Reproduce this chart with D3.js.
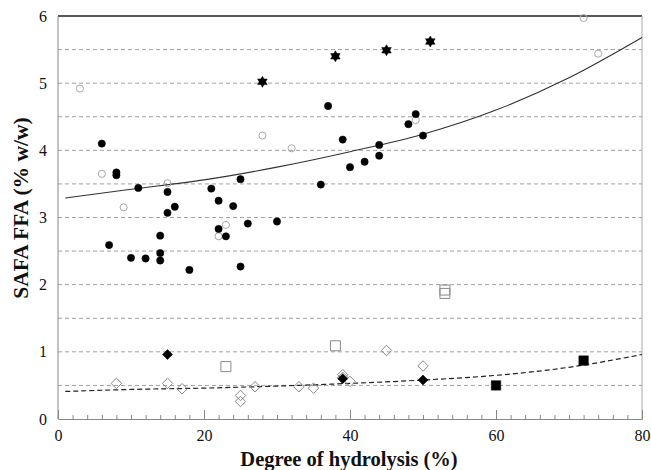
<!DOCTYPE html>
<html><head><meta charset="utf-8">
<script src="https://cdn.jsdelivr.net/npm/d3@7"></script>
<style>body{margin:0;background:#fff}svg{display:block}</style>
</head><body><svg id="c" width="651" height="470"></svg>
<script>
// ---- data (x = degree of hydrolysis %, y = SAFA FFA % w/w) ----
const filledCircleX = [6, 8, 8, 11, 15, 15, 16, 7, 10, 12, 14, 14, 14, 18, 21, 22, 24, 25, 22, 23, 26, 30, 25, 36, 37, 39, 40, 42, 44, 44, 48, 49, 50];
const filledCircleY = [4.10, 3.67, 3.63, 3.44, 3.38, 3.07, 3.16, 2.59, 2.40, 2.39, 2.73, 2.47, 2.36, 2.22, 3.43, 3.25, 3.17, 3.57, 2.83, 2.72, 2.91, 2.94, 2.27, 3.49, 4.66, 4.16, 3.75, 3.83, 4.08, 3.92, 4.39, 4.54, 4.22];
const openCircleX = [3, 6, 9, 15, 22, 23, 28, 32, 49, 72, 74];
const openCircleY = [4.92, 3.65, 3.15, 3.51, 2.72, 2.89, 4.22, 4.03, 4.45, 5.97, 5.44];
const starX = [28, 38, 45, 51];
const starY = [5.02, 5.40, 5.49, 5.62];
const openSquareX = [23, 38, 53, 53];
const openSquareY = [0.78, 1.09, 1.92, 1.87];
const filledSquareX = [60, 72];
const filledSquareY = [0.50, 0.87];
const openDiamondX = [8, 15, 17, 25, 25, 27, 33, 35, 39, 39, 40, 45, 50];
const openDiamondY = [0.53, 0.53, 0.45, 0.35, 0.26, 0.48, 0.48, 0.46, 0.66, 0.62, 0.56, 1.02, 0.79];
const filledDiamondX = [15, 39, 50];
const filledDiamondY = [0.96, 0.60, 0.58];
// trend curves
const solidCurveX = [1, 10, 20, 30, 40, 50, 60, 70, 80];
const solidCurveY = [3.29, 3.42, 3.56, 3.75, 3.98, 4.24, 4.60, 5.08, 5.68];
const dashedCurveX = [1, 10, 20, 30, 40, 50, 60, 70, 80];
const dashedCurveY = [0.41, 0.44, 0.46, 0.49, 0.53, 0.58, 0.65, 0.77, 0.96];
const xTicks = [0, 20, 40, 60, 80];
const yTicks = [0, 1, 2, 3, 4, 5, 6];
const gridValues = [0.5, 1, 1.5, 2, 2.5, 3, 3.5, 4, 4.5, 5, 5.5];

const zip = (a, b) => a.map((v, i) => [v, b[i]]);

const svg = d3.select("#c");
const x = d3.scaleLinear().domain([0, 80]).range([58, 642]);
const y = d3.scaleLinear().domain([0, 6]).range([419, 16]);
const serif = "Liberation Serif, Times New Roman, DejaVu Serif, serif";

// grid
svg.append("g").selectAll("line").data(gridValues).join("line")
  .attr("x1", x(0)).attr("x2", x(80))
  .attr("y1", d => y(d)).attr("y2", d => y(d))
  .attr("stroke", "#a0a0a0").attr("stroke-width", 1).attr("stroke-dasharray", "4,3");

// frame
svg.append("line").attr("x1", x(0)).attr("x2", x(80)).attr("y1", y(6)).attr("y2", y(6))
  .attr("stroke", "#222").attr("stroke-width", 1.5);
svg.append("line").attr("x1", x(80)).attr("x2", x(80)).attr("y1", y(6)).attr("y2", y(0))
  .attr("stroke", "#aaa").attr("stroke-width", 1);
svg.append("line").attr("x1", x(0)).attr("x2", x(0)).attr("y1", y(6)).attr("y2", y(0))
  .attr("stroke", "#888").attr("stroke-width", 1);

// x axis: minor + major ticks pointing up
const minor = svg.append("g").attr("transform", `translate(0,${y(0)})`)
  .call(d3.axisBottom(x).tickValues(d3.range(0, 81, 2)).tickSize(-4).tickFormat(""));
minor.select(".domain").attr("stroke", "#888");
minor.selectAll(".tick line").attr("stroke", "#888");
const major = svg.append("g").attr("transform", `translate(0,${y(0)})`)
  .call(d3.axisBottom(x).tickValues(xTicks).tickSize(-9).tickPadding(11).tickFormat(d3.format("d")));
major.select(".domain").remove();
major.selectAll(".tick line").attr("stroke", "#888");
major.selectAll("text").style("font-family", serif).style("font-size", "16px").attr("fill", "#111");

// y axis labels
const ya = svg.append("g").attr("transform", `translate(${x(0)},0)`)
  .call(d3.axisLeft(y).tickValues(yTicks).tickSize(0).tickPadding(11).tickFormat(d3.format("d")));
ya.select(".domain").remove();
ya.selectAll("text").style("font-family", serif).style("font-size", "16px").attr("fill", "#111");

// curves
const line = d3.line().x(d => x(d[0])).y(d => y(d[1])).curve(d3.curveMonotoneX);
svg.append("path").attr("d", line(zip(solidCurveX, solidCurveY)))
  .attr("fill", "none").attr("stroke", "#333").attr("stroke-width", 1.1);
svg.append("path").attr("d", line(zip(dashedCurveX, dashedCurveY)))
  .attr("fill", "none").attr("stroke", "#222").attr("stroke-width", 1.2).attr("stroke-dasharray", "5,3");

// markers
const star6 = {
  draw(ctx, size) {
    const r = Math.sqrt(size) * 0.62;
    for (let t = 0; t < 2; t++) {
      const off = t === 0 ? -Math.PI / 2 : Math.PI / 2;
      for (let k = 0; k < 3; k++) {
        const a = off + k * 2 * Math.PI / 3;
        const px = r * Math.cos(a), py = r * Math.sin(a);
        if (k === 0) ctx.moveTo(px, py); else ctx.lineTo(px, py);
      }
      ctx.closePath();
    }
  }
};
const diamondSym = {
  draw(ctx, size) {
    const r = Math.sqrt(size) / 2;
    ctx.moveTo(0, -r); ctx.lineTo(r, 0); ctx.lineTo(0, r); ctx.lineTo(-r, 0); ctx.closePath();
  }
};

function pts(xs, ys, type, size, fill, stroke, sw) {
  svg.append("g").selectAll("path").data(zip(xs, ys)).join("path")
    .attr("transform", d => `translate(${x(d[0])},${y(d[1])})`)
    .attr("d", d3.symbol().type(type).size(size))
    .attr("fill", fill).attr("stroke", stroke).attr("stroke-width", sw);
}
pts(openDiamondX, openDiamondY, diamondSym, 110, "none", "#8a8a8a", 1);
pts(openSquareX, openSquareY, d3.symbolSquare, 100, "none", "#8a8a8a", 1);
pts(openCircleX, openCircleY, d3.symbolCircle, 40, "none", "#a8a8a8", 1);
pts(filledCircleX, filledCircleY, d3.symbolCircle, 42, "#000", "#000", 0.5);
pts(starX, starY, star6, 80, "#000", "#000", 0.5);
pts(filledDiamondX, filledDiamondY, diamondSym, 100, "#000", "#000", 0.5);
pts(filledSquareX, filledSquareY, d3.symbolSquare, 90, "#000", "#000", 0.5);

// axis titles
svg.append("text").attr("x", 349).attr("y", 466).attr("text-anchor", "middle")
  .style("font-family", serif).style("font-weight", "bold").style("font-size", "20.5px").attr("fill", "#111")
  .text("Degree of hydrolysis (%)");
svg.append("text").attr("transform", "translate(28,208) rotate(-90)").attr("text-anchor", "middle")
  .style("font-family", serif).style("font-weight", "bold").style("font-size", "21.5px").attr("fill", "#111")
  .text("SAFA FFA (% w/w)");
</script>
</body></html>
